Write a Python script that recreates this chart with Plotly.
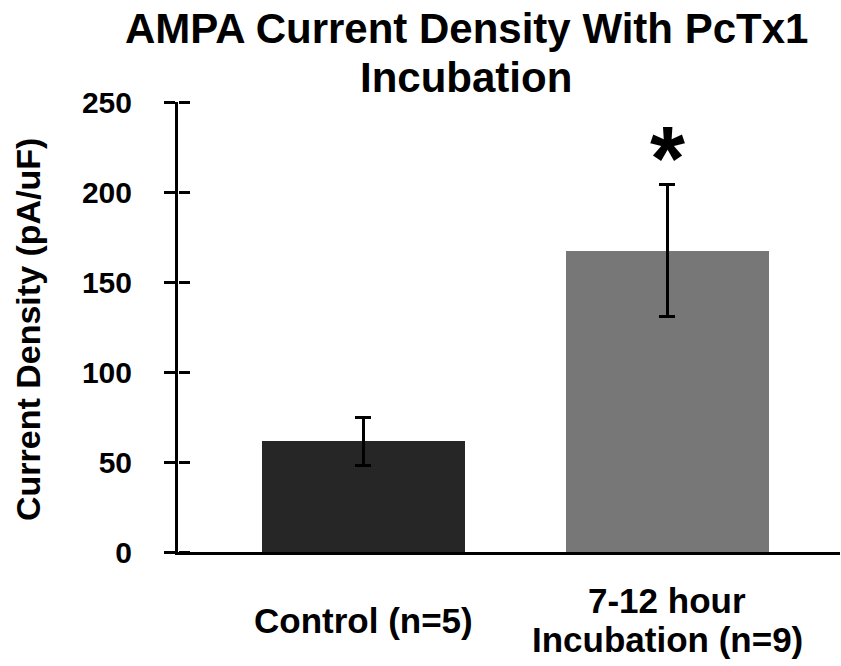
import plotly.graph_objects as go

# ---- data ----
categories = ["Control (n=5)", "7-12 hour Incubation (n=9)"]
means = [61.5, 167.5]
sem = [13.3, 36.8]
bar_colors = ["#262626", "#777777"]
y_ticks = [0, 50, 100, 150, 200, 250]
title_lines = ["AMPA Current Density With PcTx1", "Incubation"]
y_title = "Current Density (pA/uF)"
label_lines = [["Control (n=5)"], ["7-12 hour", "Incubation (n=9)"]]
sig_marker = "*"

FONT = "Arial, Liberation Sans, sans-serif"

fig = go.Figure()
fig.add_trace(go.Bar(
    x=[0, 1],
    y=means,
    width=0.668,
    marker=dict(color=bar_colors, line=dict(width=0)),
    error_y=dict(type="data", array=sem, visible=True, color="black", thickness=2.6, width=8),
    showlegend=False,
))

W, H = 841, 666
ml, mr, mt, mb = 178, 1, 102, 114
plot_h = H - mt - mb


def py_to_paper(py):
    return (H - mb - py) / plot_h


def px_to_paper(px):
    return (px - ml) / (W - ml - mr)


ann = []
# title lines
for txt, cy in zip(title_lines, [28.5, 77.5]):
    ann.append(dict(text=f"<b>{txt}</b>", xref="paper", yref="paper", x=px_to_paper(466), y=py_to_paper(cy),
                    xanchor="center", yanchor="middle", showarrow=False,
                    font=dict(family=FONT, size=42, color="black")))
# category labels
label_centers = [[620.5], [600.5, 639.5]]
for i, (lines, cys) in enumerate(zip(label_lines, label_centers)):
    for txt, cy in zip(lines, cys):
        ann.append(dict(text=f"<b>{txt}</b>", xref="x", yref="paper", x=i, y=py_to_paper(cy),
                        xanchor="center", yanchor="middle", showarrow=False,
                        font=dict(family=FONT, size=35, color="black")))
# y title
ann.append(dict(text=f"<b>{y_title}</b>", xref="paper", yref="paper", x=px_to_paper(28), y=py_to_paper(330),
                xanchor="center", yanchor="middle", showarrow=False, textangle=-90,
                font=dict(family=FONT, size=34, color="black")))
# significance marker
ann.append(dict(text=f"<b>{sig_marker}</b>", xref="x", yref="y", x=1, y=means[1] + sem[1] + 14,
                xanchor="center", yanchor="middle", showarrow=False,
                font=dict(family=FONT, size=90, color="black")))

fig.update_layout(
    width=W, height=H,
    margin=dict(l=ml, r=mr, t=mt, b=mb, pad=0),
    paper_bgcolor="white", plot_bgcolor="white",
    annotations=ann,
    bargap=0,
    xaxis=dict(range=[-0.6099, 1.5678], showline=True, linewidth=3, linecolor="black",
               showticklabels=False, ticks="", showgrid=False, zeroline=False, fixedrange=True),
    yaxis=dict(range=[0, 250], tickvals=y_ticks, ticks="outside", ticklen=11, tickwidth=3, tickcolor="black",
               showline=True, linewidth=3, linecolor="black", showgrid=False, zeroline=False,
               tickfont=dict(family=FONT, size=30, color="black", weight="bold"), ticklabelstandoff=26),
    # second axis at the same left edge with ticks pointing into the plot -> crossing ticks
    yaxis2=dict(range=[0, 250], tickvals=y_ticks, ticks="outside", ticklen=11, tickwidth=3, tickcolor="black",
                overlaying="y", side="right", anchor="free", position=0,
                showticklabels=False, showline=False, showgrid=False, zeroline=False),
)

# invisible trace to activate yaxis2
fig.add_trace(go.Scatter(x=[0], y=[0], yaxis="y2", mode="markers", marker=dict(opacity=0), showlegend=False,
                         hoverinfo="skip"))

fig.write_html("out.html")
